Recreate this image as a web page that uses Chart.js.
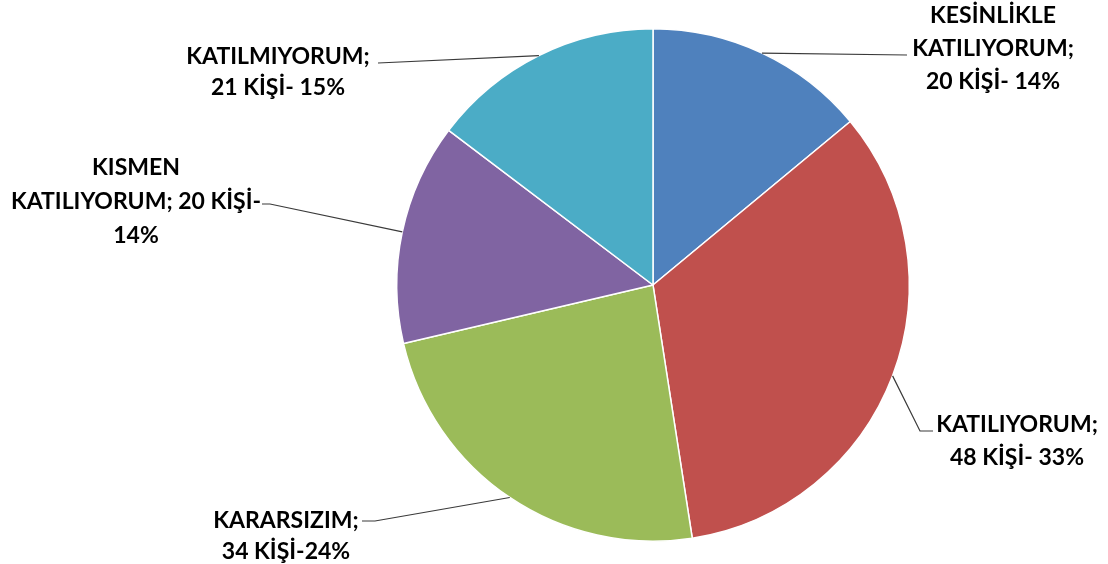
<!DOCTYPE html>
<html>
<head>
<meta charset="utf-8">
<script src="https://cdn.jsdelivr.net/npm/chart.js@4"></script>
<style>
    html, body { margin: 0; padding: 0; background: #fff; }
    #wrap { width: 1108px; height: 564px; position: relative; }
</style>
</head>
<body>
<div id="wrap"><canvas id="pieChart" width="1108" height="564"></canvas></div>
<script>
// --- Dados ---
const categories = ['KESİNLİKLE KATILIYORUM', 'KATILIYORUM', 'KARARSIZIM', 'KISMEN KATILIYORUM', 'KATILMIYORUM'];
const counts = [20, 48, 34, 20, 21];
const percents = [14, 33, 24, 14, 15];
const colors = ['#4F81BD', '#C0504D', '#9BBB59', '#8064A2', '#4BACC6'];

// label text, wrapped like the original
const labelLines = [
    ['KESİNLİKLE', 'KATILIYORUM;', counts[0] + ' KİŞİ- ' + percents[0] + '%'],
    ['KATILIYORUM;', counts[1] + ' KİŞİ- ' + percents[1] + '%'],
    ['KARARSIZIM;', counts[2] + ' KİŞİ-' + percents[2] + '%'],
    ['KISMEN', 'KATILIYORUM; ' + counts[3] + ' KİŞİ-', percents[3] + '%'],
    ['KATILMIYORUM;', counts[4] + ' KİŞİ- ' + percents[4] + '%']
];

// label placement (center x, first line y, line gap) and leader line bend points
const labelLayout = [
    { x: 993, y: 16, gap: 33, path: [[907, 55]] },
    { x: 1017, y: 425, gap: 33, path: [[920, 431], [933, 431]] },
    { x: 286, y: 521, gap: 31, path: [[375, 521], [362, 521]] },
    { x: 136, y: 168, gap: 34, path: [[270, 204], [262, 204]] },
    { x: 278, y: 57, gap: 31, path: [[378, 63]] }
];

const FONT = 'bold 23px Lato, "Liberation Sans", sans-serif';

// --- Labels plugin ---
const leaderLabels = {
    id: 'leaderLabels',
    afterDatasetsDraw(chart) {
        const ctx = chart.ctx;
        const meta = chart.getDatasetMeta(0);
        ctx.save();
        meta.data.forEach((arc, i) => {
            const p = arc.getProps(['x', 'y', 'startAngle', 'endAngle', 'outerRadius'], true);
            const mid = (p.startAngle + p.endAngle) / 2;
            const sx = p.x + Math.cos(mid) * p.outerRadius;
            const sy = p.y + Math.sin(mid) * p.outerRadius;
            const lay = labelLayout[i];

            ctx.strokeStyle = '#3a3a3a';
            ctx.lineWidth = 1.2;
            ctx.beginPath();
            ctx.moveTo(sx, sy);
            lay.path.forEach(pt => ctx.lineTo(pt[0], pt[1]));
            ctx.stroke();

            ctx.fillStyle = '#000';
            ctx.font = FONT;
            ctx.textAlign = 'center';
            ctx.textBaseline = 'middle';
            labelLines[i].forEach((txt, k) => {
                ctx.fillText(txt, lay.x, lay.y + k * lay.gap);
            });
        });
        ctx.restore();
    }
};

// --- Chart.js ---
function initChart() {
    const ctx = document.getElementById('pieChart').getContext('2d');
    new Chart(ctx, {
        type: 'pie',
        data: {
            labels: categories,
            datasets: [{
                data: counts,
                backgroundColor: colors,
                borderColor: '#ffffff',
                borderWidth: 1.5
            }]
        },
        options: {
            responsive: false,
            animation: false,
            layout: { padding: { left: 396, right: 198, top: 28, bottom: 22 } },
            plugins: {
                legend: { display: false },
                tooltip: { enabled: false }
            }
        },
        plugins: [leaderLabels]
    });
}

document.addEventListener('DOMContentLoaded', initChart);
</script>
</body>
</html>
